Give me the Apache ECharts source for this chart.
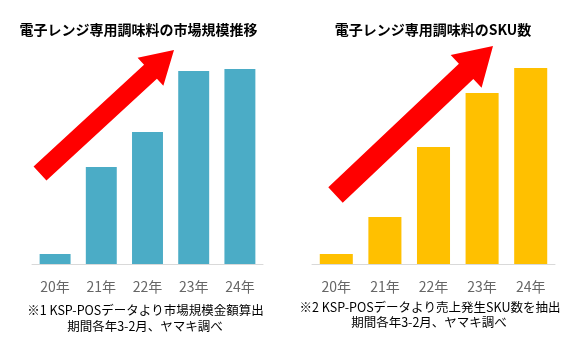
<!DOCTYPE html>
<html><head><meta charset="utf-8">
<script src="https://cdn.jsdelivr.net/npm/echarts@6/dist/echarts.min.js"></script>
<style>html,body{margin:0;padding:0;background:#fff}#c{width:580px;height:348px}</style>
</head><body><div id="c"></div>
<script>
const categories = ['20年','21年','22年','23年','24年'];
const marketSize = [10, 97, 132, 193, 195];
const skuCount = [10, 47, 117, 171, 196];
const titles = ['電子レンジ専用調味料の市場規模推移', '電子レンジ専用調味料のSKU数'];
const notesLeft = ['※1 KSP-POSデータより市場規模金額算出', '期間各年3-2月、ヤマキ調べ'];
const notesRight = ['※2 KSP-POSデータより売上発生SKU数を抽出', '期間各年3-2月、ヤマキ調べ'];

const FONT = '"Noto Sans CJK JP", sans-serif';
function arrow(tail, tip, w, headLen, headHalf) {
  const dx = tip[0]-tail[0], dy = tip[1]-tail[1];
  const L = Math.hypot(dx, dy);
  const ux = dx/L, uy = dy/L, nx = -uy, ny = ux;
  const neck = [tip[0]-ux*headLen, tip[1]-uy*headLen];
  const pts = [
    [tail[0]+nx*w/2, tail[1]+ny*w/2],
    [neck[0]+nx*w/2, neck[1]+ny*w/2],
    [neck[0]+nx*headHalf, neck[1]+ny*headHalf],
    tip,
    [neck[0]-nx*headHalf, neck[1]-ny*headHalf],
    [neck[0]-nx*w/2, neck[1]-ny*w/2],
    [tail[0]-nx*w/2, tail[1]-ny*w/2]
  ];
  return {type:'polygon', shape:{points:pts}, style:{fill:'#FF0000'}, z:10};
}
function txt(x, y, t, size, bold) {
  return {type:'text', x:x, y:y, style:{text:t, font:(bold?'bold ':'')+size+'px '+FONT, fill:'#000', textAlign:'center', textVerticalAlign:'middle'}, z:10};
}

const chart = echarts.init(document.getElementById('c'));
const axisCommon = {
  type:'category', data:categories,
  axisLine:{lineStyle:{color:'#D9D9D9', width:1}},
  axisTick:{show:false},
  axisLabel:{color:'#666666', fontSize:14, fontFamily:FONT, margin:16}
};
const yCommon = {type:'value', min:0, max:200, show:false, splitLine:{show:false}};
chart.setOption({
  animation:false,
  grid:[
    {left:32, width:231, top:64, bottom:84},
    {left:312, width:243, top:64, bottom:84}
  ],
  xAxis:[Object.assign({gridIndex:0}, axisCommon), Object.assign({gridIndex:1}, axisCommon)],
  yAxis:[Object.assign({gridIndex:0}, yCommon), Object.assign({gridIndex:1}, yCommon)],
  series:[
    {type:'bar', xAxisIndex:0, yAxisIndex:0, data:marketSize, barCategoryGap:'33%', itemStyle:{color:'#4BACC6'}},
    {type:'bar', xAxisIndex:1, yAxisIndex:1, data:skuCount, barCategoryGap:'32%', itemStyle:{color:'#FFC000'}}
  ],
  graphic:[
    txt(138.5, 30, titles[0], 14, true),
    txt(433, 30, titles[1], 14, true),
    txt(145.5, 310, notesLeft[0], 12.5, false),
    txt(145, 326, notesLeft[1], 12.5, false),
    txt(430, 307, notesRight[0], 12.5, false),
    txt(429, 322, notesRight[1], 12.5, false),
    arrow([40,173.5],[174,50],19,32,19),
    arrow([335.5,195],[493,46],21,37,22.5)
  ]
});
</script></body></html>
